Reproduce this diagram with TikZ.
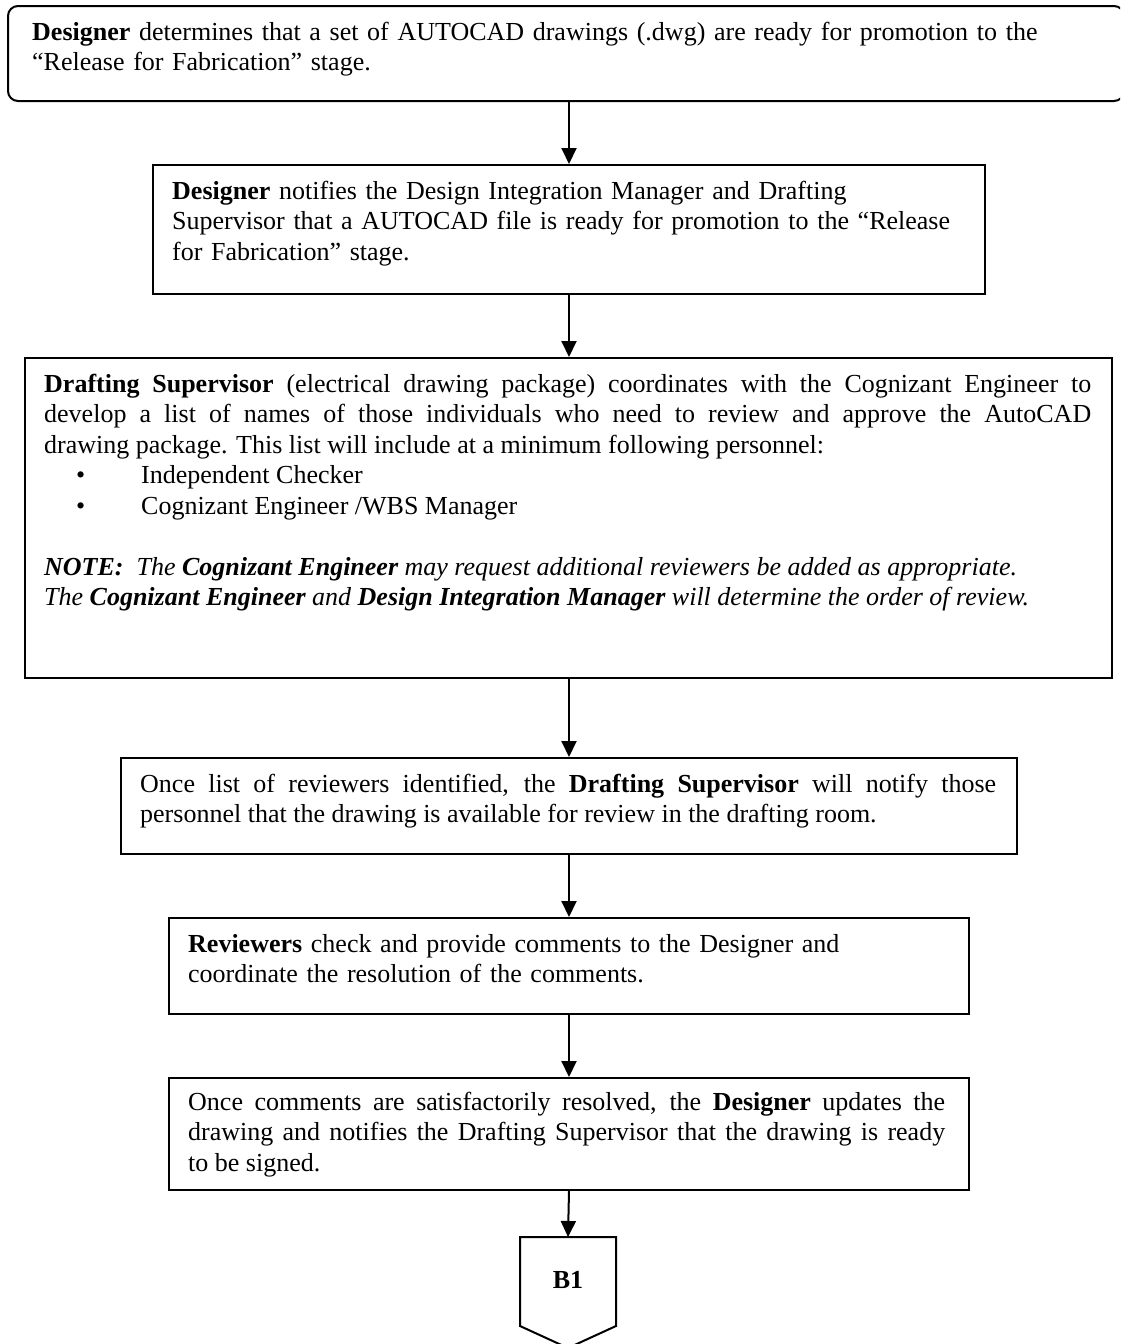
\documentclass[tikz,border=0pt]{standalone}
\usepackage{fontspec}
\setmainfont{Liberation Serif}
\setlength{\parindent}{0pt}
\setlength{\parskip}{0pt}
\usetikzlibrary{arrows.meta,calc}
\begin{document}
\begin{tikzpicture}[x=1pt,y=-1pt,
  boxfr/.style={draw, line width=2pt, inner sep=0pt, anchor=north west},
  txt/.style={anchor=north west, inner sep=0pt, font=\fontsize{26}{30.5}\selectfont},
  flow/.style={line width=2pt, -{Triangle[length=16pt,width=15pt]}}]
\useasboundingbox (0,0) rectangle (1120,1344);
\clip (0,0) rectangle (1120,1344);

% box 1 (rounded, running off the right edge)
\node[boxfr, rounded corners=10pt, minimum width=1116pt, minimum height=95pt] (b1) at (7,5) {};
\node[txt, text width=1080pt, align=left] (t1) at (32,18.65)
 {\strut\textbf{Designer} determines that a set of AUTOCAD drawings (.dwg) are ready for promotion to the\\
 “Release for Fabrication” stage.};

% box 2
\node[boxfr, minimum width=832pt, minimum height=129pt] (b2) at (152,164) {};
\node[txt, text width=800pt, align=left] (t2) at (172,177.65)
 {\strut\textbf{Designer} notifies the Design Integration Manager and Drafting\\
 Supervisor that a AUTOCAD file is ready for promotion to the “Release\\
 for Fabrication” stage.};

% box 3
\node[boxfr, minimum width=1087pt, minimum height=320pt] (b3) at (24,357) {};
\node[txt, text width=1047pt, align=justify] (t3) at (44,370.65)
 {\strut\textbf{Drafting Supervisor} (electrical drawing package) coordinates with the Cognizant Engineer to\linebreak
 develop a list of names of those individuals who need to review and approve the AutoCAD\linebreak
 drawing package.  This list will include at a minimum following personnel:\par
 \hspace*{32pt}\makebox[65pt][l]{\textbullet}Independent Checker\par
 \hspace*{32pt}\makebox[65pt][l]{\textbullet}Cognizant Engineer /WBS Manager\par
 \mbox{}\par
 {\itshape\bfseries NOTE:}\ \ {\itshape The \textbf{Cognizant Engineer} may request additional reviewers be added as appropriate.}\par
 {\itshape The \textbf{Cognizant Engineer} and \textbf{Design Integration Manager} will determine the order of review.}};

% box 4
\node[boxfr, minimum width=896pt, minimum height=96pt] (b4) at (120,757) {};
\node[txt, text width=856pt, align=justify] (t4) at (140,770.65)
 {\strut Once list of reviewers identified, the \textbf{Drafting Supervisor} will notify those\linebreak
 personnel that the drawing is available for review in the drafting room.};

% box 5
\node[boxfr, minimum width=800pt, minimum height=96pt] (b5) at (168,917) {};
\node[txt, text width=770pt, align=left] (t5) at (188,930.65)
 {\strut\textbf{Reviewers} check and provide comments to the Designer and\\
 coordinate the resolution of the comments.};

% box 6
\node[boxfr, minimum width=800pt, minimum height=112pt] (b6) at (168,1077) {};
\node[txt, text width=757pt, align=justify] (t6) at (188,1088.65)
 {\strut Once comments are satisfactorily resolved, the \textbf{Designer} updates the\linebreak
 drawing and notifies the Drafting Supervisor that the drawing is ready\linebreak
 to be signed.};

% off-page connector B1
\coordinate (b7top) at (568,1237);
\draw[line width=2pt] (520,1237) -- (616,1237) -- (616,1326) -- (568,1348) -- (520,1326) -- cycle;
\node[font=\fontsize{26}{30.5}\selectfont\bfseries, anchor=base] (b7) at (568,1288) {B1};

% connectors
\draw[flow] (b1.south -| b2.north) -- (b2.north);
\draw[flow] (b2.south) -- (b2.south |- b3.north);
\draw[flow] (b3.south -| b2.south) -- (b2.south |- b4.north);
\draw[flow] (b4.south -| b2.south) -- (b2.south |- b5.north);
\draw[flow] (b5.south) -- (b6.north);
\draw[flow] (b6.south) -- (b7top);
\end{tikzpicture}
\end{document}
